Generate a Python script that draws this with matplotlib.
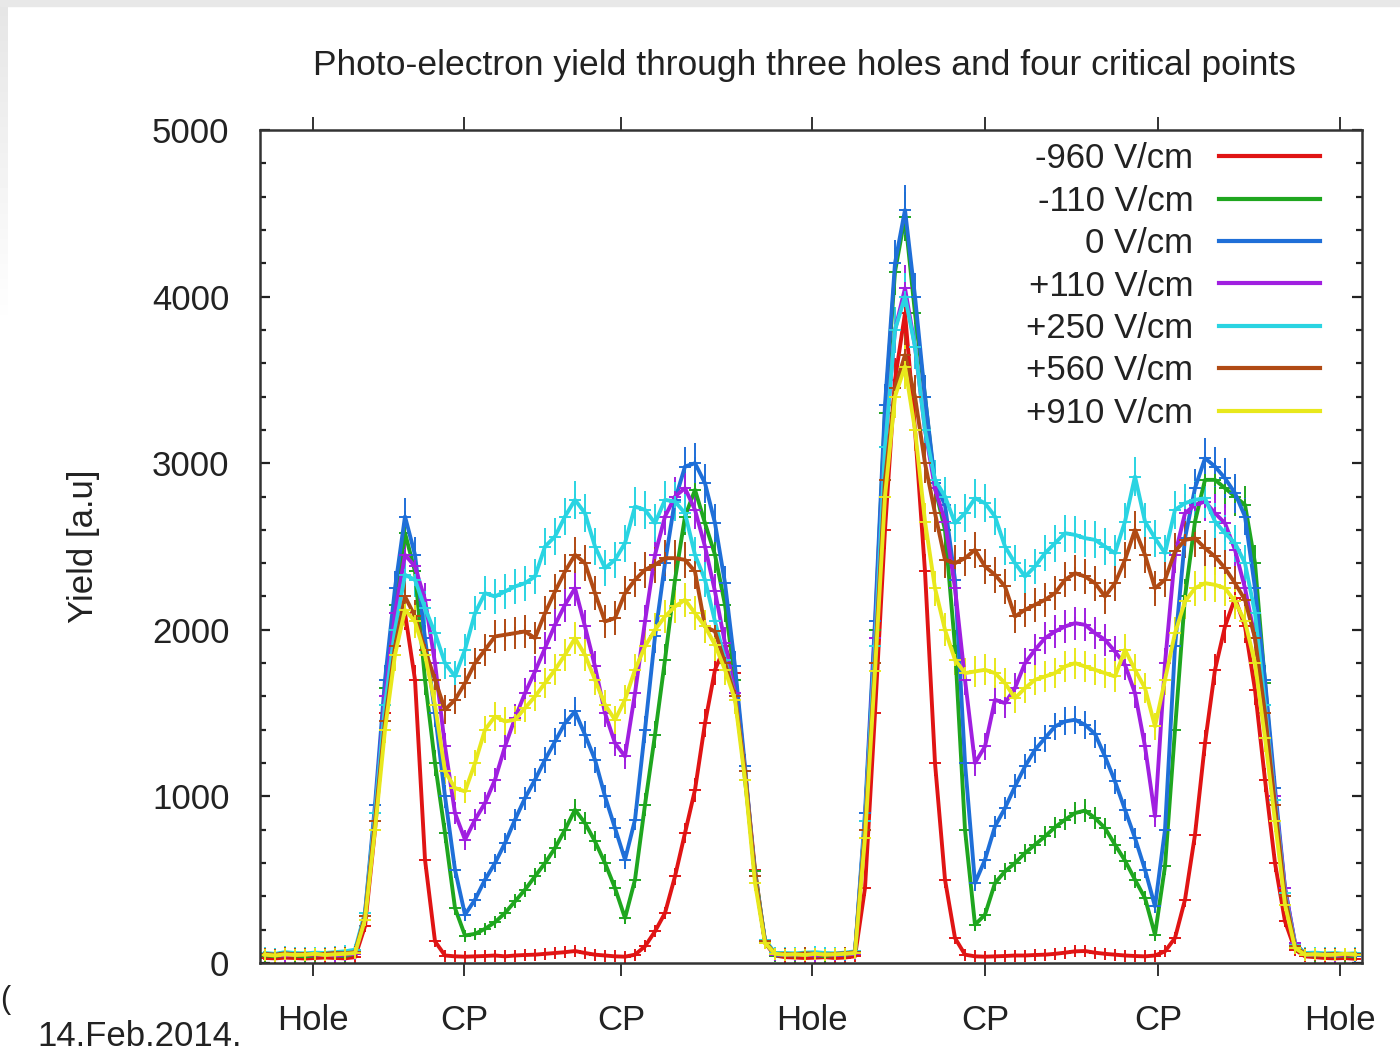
import numpy as np
import matplotlib
matplotlib.use("Agg")
import matplotlib.pyplot as plt
from matplotlib.lines import Line2D
from matplotlib.patches import Rectangle

plt.rcParams['font.family'] = ['Liberation Sans', 'DejaVu Sans']

# scan positions (arbitrary units along the scan line)
scan_pos = np.arange(0.5, 110, 1.0)

tick_pos = [5.3, 20.4, 36.1, 55.2, 72.5, 89.8, 108.0]
tick_labels = ['Hole', 'CP', 'CP', 'Hole', 'CP', 'CP', 'Hole']

labels = ['-960 V/cm', '-110 V/cm', '0 V/cm', '+110 V/cm',
          '+250 V/cm', '+560 V/cm', '+910 V/cm']
colors = ['#e01414', '#1fa61f', '#1f6fd8', '#a01fe0',
          '#2ad4e2', '#b04a14', '#e8e81c']

yield_m960 = [30, 28, 32, 30, 27, 30, 33, 30, 28, 35,
              220, 800, 1500, 1900, 2100, 1700, 620, 130, 45, 40,
              38, 40, 42, 45, 40, 45, 48, 50, 55, 60,
              65, 72, 60, 50, 45, 40, 38, 50, 100, 190,
              300, 520, 780, 1040, 1440, 1760, 1900, 1740, 1150, 560,
              120, 45,
              35, 33, 30, 32, 35, 30, 33, 40,
              450, 1500, 2600, 3500, 3900, 3200, 2350, 1200, 500, 150,
              50, 40, 38, 40, 42, 45, 45, 48, 50, 55,
              62, 70, 72, 62, 55, 50, 45, 42, 40, 45,
              70, 150, 380, 770, 1320, 1760, 2020, 2190, 2020, 1640,
              1100, 600, 250, 80, 40, 35, 30, 28, 30, 25]

yield_m110 = [45, 42, 48, 45, 40, 45, 50, 45, 42, 55,
              280, 900, 1650, 2150, 2580, 2350, 1700, 1200, 780, 330,
              165, 175, 205, 245, 300, 370, 440, 520, 600, 690,
              800, 920, 840, 730, 600, 450, 270, 500, 950, 1370,
              1820, 2300, 2680, 2840, 2640, 2450, 2150, 1700, 1100, 550,
              130, 45,
              48, 45, 50, 45, 42, 48, 50, 55,
              850, 2000, 3300, 4150, 4480, 3900, 3400, 2850, 2600, 1900,
              800, 230, 290, 480, 550, 600, 660, 710, 760, 815,
              860, 900, 915, 870, 810, 710, 615, 500, 390, 170,
              580, 1400, 2200, 2650, 2900, 2900, 2850, 2800, 2750, 2400,
              1680, 980, 400, 90, 50, 45, 48, 42, 45, 40]

yield_0 = [55, 50, 52, 48, 55, 50, 52, 58, 55, 60,
           300, 950, 1700, 2250, 2680, 2450, 1950, 1500, 1000, 560,
           290, 380, 500, 600, 720, 860, 990, 1100, 1220, 1330,
           1440, 1510, 1370, 1220, 1000, 810, 620, 860, 1400, 1960,
           2400, 2780, 2980, 3000, 2880, 2640, 2280, 1780, 1180, 520,
           130, 50,
           52, 55, 50, 48, 55, 52, 50, 60,
           900, 2050, 3350, 4200, 4520, 4000, 3400, 2880, 2750, 2300,
           1200, 480, 620, 820, 930, 1060, 1180, 1280, 1350, 1420,
           1450, 1460, 1430, 1375, 1240, 1090, 920, 750, 560, 340,
           800, 1900, 2550, 2850, 3030, 2980, 2910, 2820, 2680, 2250,
           1700, 1050, 450, 120, 55, 50, 52, 48, 50, 45]

yield_p110 = [50, 48, 45, 50, 52, 48, 50, 45, 50, 55,
              280, 900, 1600, 2100, 2450, 2380, 2180, 1800, 1300, 900,
              740, 860, 960, 1100, 1300, 1470, 1620, 1750, 1890, 2030,
              2150, 2250, 2020, 1780, 1500, 1320, 1240, 1620, 2050, 2450,
              2680, 2800, 2850, 2720, 2500, 2230, 1920, 1620, 1150, 520,
              130, 50,
              50, 48, 52, 45, 50, 48, 52, 55,
              850, 1950, 3100, 3800, 4050, 3700, 3200, 2850, 2650, 2250,
              1700, 1200, 1300, 1580, 1560, 1650, 1800, 1880, 1950, 1990,
              2020, 2040, 2030, 1980, 1940, 1870, 1790, 1620, 1300, 880,
              1800, 2450, 2700, 2750, 2770, 2700, 2640, 2480, 2250, 1950,
              1550, 1000, 450, 120, 50, 48, 50, 45, 48, 50]

yield_p250 = [60, 55, 65, 60, 58, 62, 60, 65, 70, 80,
              300, 900, 1550, 2000, 2330, 2300, 2130, 1980, 1800, 1720,
              1880, 2100, 2220, 2200, 2230, 2260, 2280, 2320, 2500, 2560,
              2680, 2780, 2700, 2500, 2370, 2420, 2520, 2740, 2720, 2640,
              2780, 2770, 2700, 2450, 2300, 2050, 1820, 1600, 1150, 520,
              140, 60,
              60, 58, 62, 65, 60, 58, 62, 70,
              850, 1900, 3100, 3800, 4000, 3700, 3200, 2900, 2800, 2640,
              2700, 2790, 2760, 2680, 2500, 2400, 2320, 2380, 2460, 2520,
              2580, 2570, 2550, 2540, 2500, 2460, 2650, 2920, 2650, 2550,
              2460, 2720, 2760, 2780, 2790, 2650, 2580, 2520, 2400, 2100,
              1550, 980, 420, 110, 60, 62, 58, 60, 55, 58]

yield_p560 = [55, 50, 58, 52, 55, 50, 55, 60, 58, 65,
              280, 850, 1450, 1900, 2200, 2080, 1880, 1700, 1520, 1580,
              1680, 1800, 1880, 1960, 1970, 1980, 1990, 1950, 2100, 2230,
              2350, 2450, 2400, 2220, 2050, 2070, 2220, 2300, 2360, 2390,
              2430, 2430, 2420, 2350, 2020, 1990, 1800, 1600, 1150, 520,
              130, 55,
              55, 52, 58, 55, 50, 55, 58, 65,
              800, 1800, 2900, 3450, 3650, 3400, 3000, 2700, 2420, 2400,
              2430, 2480, 2380, 2330, 2260, 2080, 2120, 2150, 2180, 2220,
              2300, 2340, 2320, 2280, 2200, 2280, 2420, 2600, 2450, 2250,
              2300, 2470, 2540, 2550, 2490, 2440, 2370, 2280, 2180, 1950,
              1500, 950, 400, 100, 55, 50, 52, 55, 50, 52]

yield_p910 = [50, 45, 52, 48, 50, 55, 48, 52, 55, 60,
              260, 800, 1400, 1850, 2120, 2050, 1850, 1550, 1150, 1050,
              1030, 1200, 1400, 1480, 1450, 1460, 1530, 1600, 1680, 1760,
              1850, 1950, 1850, 1700, 1550, 1460, 1580, 1760, 1900, 2000,
              2080, 2140, 2180, 2100, 2020, 1910, 1760, 1580, 1100, 480,
              120, 55,
              50, 52, 48, 55, 50, 52, 55, 60,
              750, 1750, 2800, 3400, 3580, 3200, 2650, 2250, 2000, 1820,
              1740, 1750, 1760, 1740, 1680, 1590, 1650, 1700, 1720, 1740,
              1780, 1800, 1780, 1760, 1740, 1720, 1880, 1760, 1650, 1420,
              1700, 1980, 2170, 2250, 2280, 2270, 2250, 2170, 2050, 1800,
              1350, 850, 350, 90, 50, 52, 48, 50, 55, 50]

series = [yield_m960, yield_m110, yield_0, yield_p110,
          yield_p250, yield_p560, yield_p910]

fig = plt.figure(figsize=(14, 10.53), dpi=100)

# light grey frame strips along the top and left edges
fig.patches.append(Rectangle((0, 1 - 6 / 1053), 1, 6 / 1053,
                             transform=fig.transFigure, color='#e8e8e8', zorder=0))
edge = fig.add_axes([0, 1 - 330 / 1053, 8 / 1400, 324 / 1053])
edge.imshow(np.linspace(0.9, 1.0, 64).reshape(-1, 1), cmap='gray',
            vmin=0, vmax=1, aspect='auto')
edge.axis('off')

ax = fig.add_axes([260 / 1400, 1 - 963 / 1053, 1102 / 1400, 833 / 1053])

for vals, col in zip(series, colors):
    y = np.array(vals, dtype=float)
    # counting-statistics error bars
    ax.errorbar(scan_pos, y, yerr=np.sqrt(y) * 2.2, color=col, lw=2.8,
                marker='+', ms=9, mew=1.4, elinewidth=1.4, capsize=0)

ax.set_xlim(0, 110.2)
ax.set_ylim(0, 5000)
ax.set_yticks(np.arange(0, 5001, 1000))
ax.set_yticks(np.arange(0, 5001, 200), minor=True)
ax.set_xticks(tick_pos)
ax.set_xticklabels(tick_labels)

ax.tick_params(axis='y', which='both', direction='in', left=True, right=True,
               width=1.6, color='#222222', labelsize=25, labelcolor='#222222', pad=22)
ax.tick_params(axis='y', which='major', length=7)
ax.tick_params(axis='y', which='minor', length=4)
ax.tick_params(axis='x', which='major', direction='out', bottom=True, top=True,
               length=9.5, width=1.3, color='#222222', labelsize=25,
               labelcolor='#222222', pad=20)

for sp in ax.spines.values():
    sp.set_linewidth(1.8)
    sp.set_color('#333333')

ax.set_ylabel('Yield [a.u]', fontsize=25, color='#222222')
ax.yaxis.set_label_coords(-0.145, 0.5)

handles = [Line2D([], [], color=c, lw=3.0) for c in colors]
ax.legend(handles, labels, loc='upper right', bbox_to_anchor=(0.962, 0.985),
          frameon=False, markerfirst=False, fontsize=25, handlelength=2.9,
          handletextpad=0.75, labelspacing=0.27, borderpad=0, borderaxespad=0,
          labelcolor='#222222')

fig.text(804 / 1400, 1 - 66 / 1053,
         'Photo-electron yield through three holes and four critical points',
         ha='center', va='center', fontsize=25.5, color='#222222')
fig.text(37 / 1400, 1 - 1046 / 1053, '14.Feb.2014.', ha='left', va='baseline',
         fontsize=25, color='#222222')
fig.text(0, 1 - 1000 / 1053, '(', ha='left', va='center', fontsize=22,
         color='#222222')

fig.savefig('out.png', dpi=100)
